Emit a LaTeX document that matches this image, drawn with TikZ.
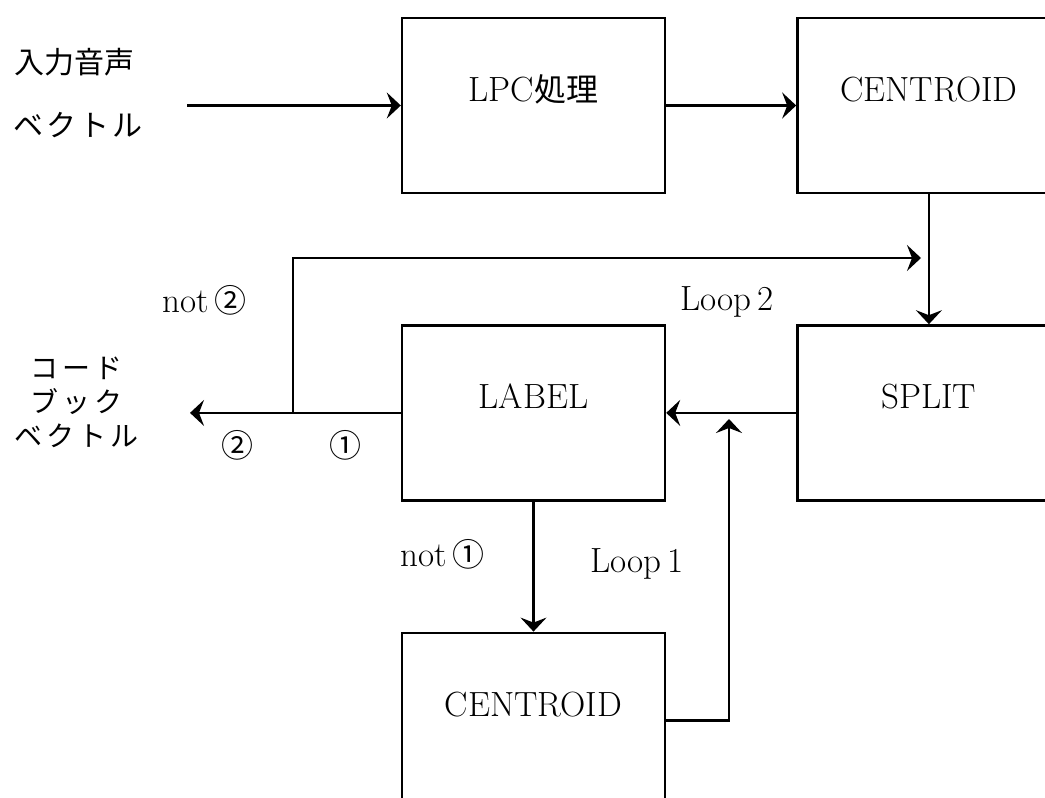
\documentclass[tikz,border=0pt]{standalone}
\usepackage{fontspec}
\newfontfamily\jpfont{Noto Sans CJK JP}
\usepackage{tikz}
\usetikzlibrary{arrows.meta, positioning, calc}

\begin{document}
\begin{tikzpicture}[
  x=1pt, y=-1pt,
  node distance=130pt,
  >={Stealth[length=14pt,width=26pt,inset=5pt]},
  box/.style={draw,line width=2.4pt,minimum width=263pt,minimum height=175pt,
              inner sep=0pt,text height=24pt,text depth=32pt,
              font=\fontsize{35}{42}\selectfont},
  txt/.style={inner sep=0pt,font=\fontsize{35}{42}\selectfont},
  jp/.style={inner sep=0pt,font=\jpfont\fontsize{30}{36}\selectfont},
  flow/.style={->,line width=2.4pt},
]
\useasboundingbox (0,0) rectangle (1045,798);

% processing boxes
\node[box] (lpc) at (533.5,105.5) {LPC{\jpfont\fontsize{32}{38}\selectfont 処理}};
\node[box, right=of lpc] (cen1) {CENTROID};
\node[box, below=of cen1] (split) {SPLIT};
\node[box, left=of split] (lab) {LABEL};
\node[box, below=of lab]  (cen2) {CENTROID};

% input / output
\node[jp, anchor=west] (in1) at (14,62) {入力音声};
\node[jp, anchor=west] (in2) at (13,125) {ベ\hspace{3pt}ク\hspace{3pt}ト\hspace{3pt}ル};
\node[jp, align=center, font=\jpfont\fontsize{28}{34}\selectfont] (cb) at (77,402)
  {コ\hspace{4pt}ー\hspace{4pt}ド\\ブ\hspace{4pt}ッ\hspace{4pt}ク\\ベ\hspace{4pt}ク\hspace{4pt}ト\hspace{4pt}ル};

% branch labels
\node[txt, anchor=base west] (not2)  at (162,312) {not\,{\jpfont\fontsize{32}{36}\selectfont ②}};
\node[txt, anchor=base west] (loop2) at (680,310) {Loop\,2};
\node[txt, anchor=base west] (not1)  at (400,566) {not\,{\jpfont\fontsize{32}{36}\selectfont ①}};
\node[txt, anchor=base west] (loop1) at (590,572) {Loop\,1};
\node[jp, font=\jpfont\fontsize{32}{36}\selectfont] (c2) at (237,445) {②};
\node[jp, font=\jpfont\fontsize{32}{36}\selectfont] (c1) at (345,445) {①};

% free ends
\coordinate (src) at (187,0 |- lpc.west);
\coordinate (out) at (190,0 |- lab.west);
\coordinate (j2)  at (293,0 |- lab.west);
\coordinate (l2)  at (921,258);
\coordinate (l1)  at (729,419);

% edges
\draw[flow] (src) -- (lpc);
\draw[flow] (lpc) -- (cen1);
\draw[flow] (cen1) -- (split);
\draw[flow] (split) -- (lab);
\draw[flow] (lab) -- (out);
\draw[flow] (lab) -- (cen2);
\draw[flow] (cen2.east) -- (l1 |- cen2.east) -- (l1);
\draw[flow] (j2) |- (l2);

\end{tikzpicture}
\end{document}
